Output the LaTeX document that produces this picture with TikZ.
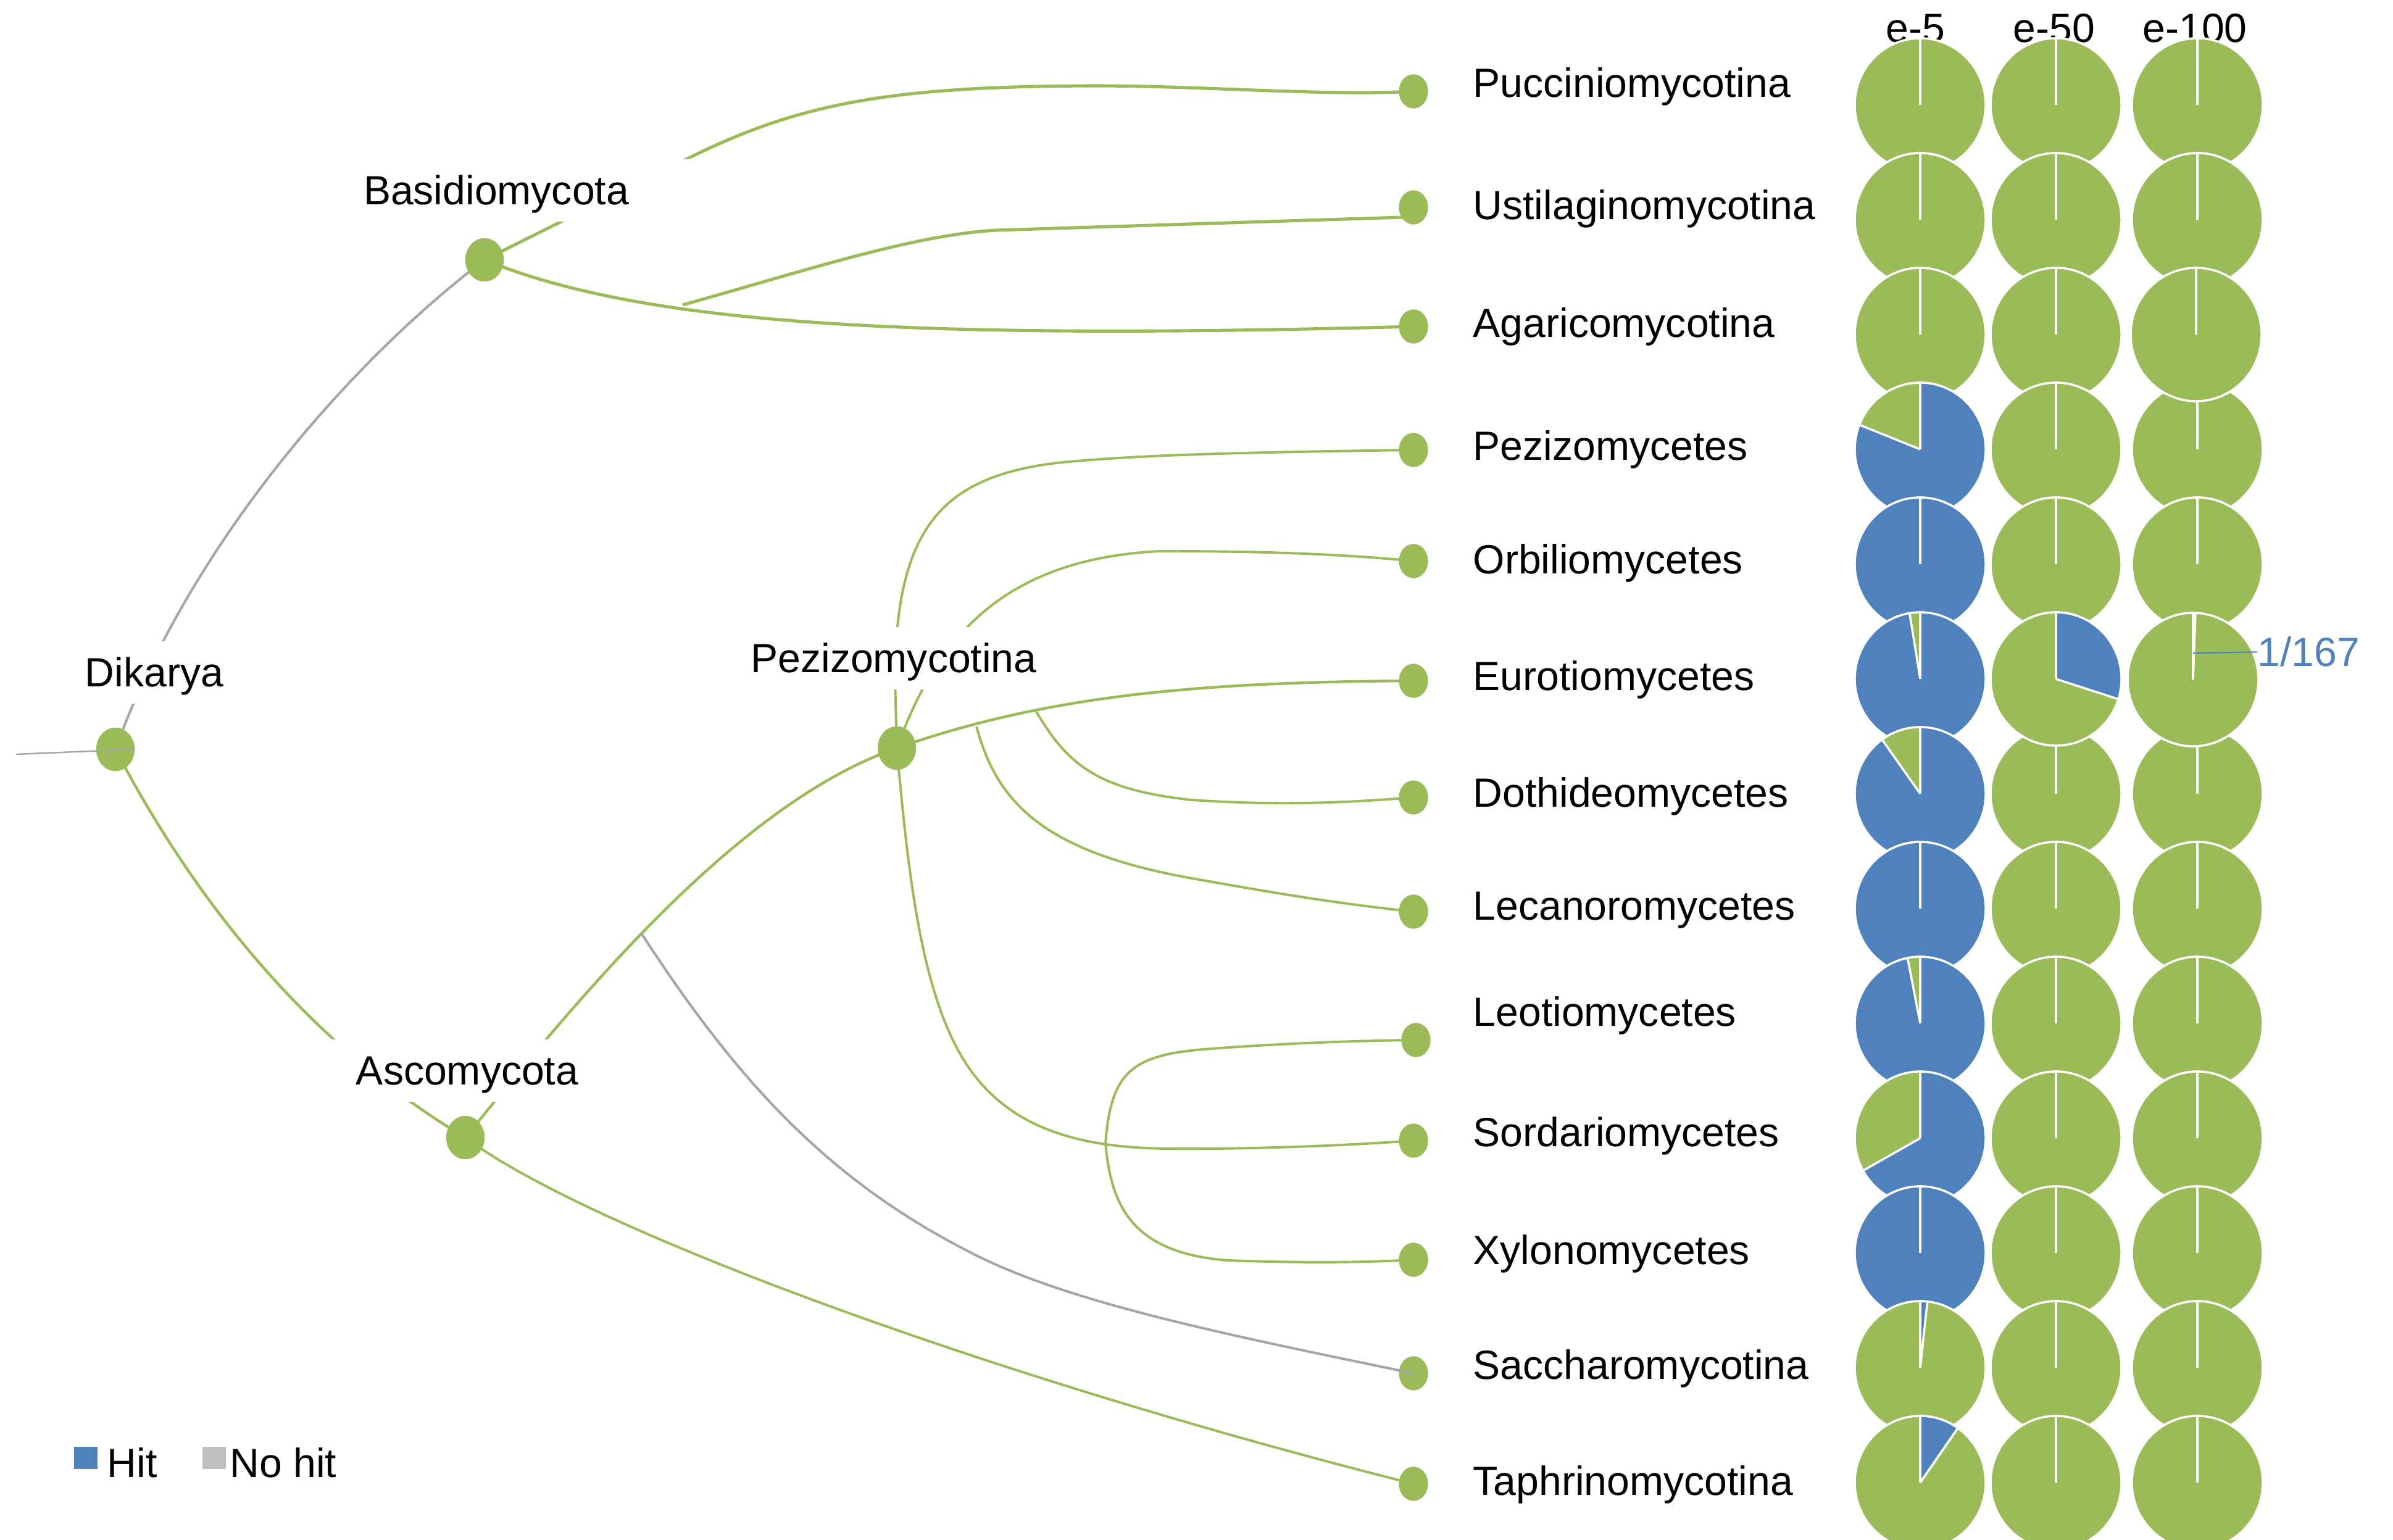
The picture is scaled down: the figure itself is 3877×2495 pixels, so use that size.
\documentclass[tikz,border=0pt]{standalone}
\usepackage{fontspec}
\setmainfont{Liberation Sans}
\usetikzlibrary{shapes.geometric}
\definecolor{pgreen}{HTML}{9BBB59}
\definecolor{pblue}{HTML}{4F81BD}
\definecolor{lgray}{HTML}{BFBFBF}
\definecolor{tgray}{HTML}{A6A6A6}
\newcommand\lbfont{\fontsize{18.8pt}{22pt}\selectfont}
\newcommand\drawpie[3]{%
  \begin{scope}[shift={(#1,#2)},x=1cm,y=1cm]
    \fill[pgreen] (0,0) ellipse[x radius=1.06, y radius=1.08];
    \ifdim #3pt>0pt
      \fill[pblue] (0,0) -- (0,1.08) arc[start angle=90, delta angle={-360*#3}, x radius=1.06, y radius=1.08] -- cycle;
    \fi
    \draw[piewhite] (0,0) ellipse[x radius=1.06, y radius=1.08];
    \draw[piewhite] (0,0) -- (0,1.08);
    \draw[piewhite] (0,0) -- ({90-360*#3}:1.06 and 1.08);
  \end{scope}}
\begin{document}
\begin{tikzpicture}[x=0.01cm,y=-0.01cm,
  piewhite/.style={white, line width=1pt},
  leaf/.style={ellipse, fill=pgreen, minimum width=0.47cm, minimum height=0.55cm, inner sep=0pt},
  inode/.style={ellipse, fill=pgreen, minimum width=0.62cm, minimum height=0.70cm, inner sep=0pt},
  ilabel/.style={fill=white, inner xsep=1.0cm, inner ysep=0pt, text height=0.74cm, text depth=0.27cm, anchor=base, font=\lbfont},
  tlabel/.style={anchor=base west, inner sep=0pt, font=\lbfont},
  hlabel/.style={anchor=base, inner sep=0pt, font=\lbfont},
  gthick/.style={pgreen, line width=1.45pt},
  gmed/.style={pgreen, line width=1.25pt},
  gthin/.style={pgreen, line width=1.12pt},
  grayline/.style={tgray, line width=1.15pt},
  keybox/.style={minimum width=0.38cm, minimum height=0.35cm, inner sep=0pt}]
\useasboundingbox (0,0) rectangle (3877,2495);

% ---------- nodes ----------
\path
  (187,1214)  node[inode] (dik) {}
  (785,421)   node[inode] (bas) {}
  (754,1843)  node[inode] (asc) {}
  (1453,1212) node[inode] (pez) {};
\path
  (2290,148)  node[leaf] (puc) {}
  (2290,336)  node[leaf] (ust) {}
  (2290,529)  node[leaf] (aga) {}
  (2290,729)  node[leaf] (pzm) {}
  (2290,909)  node[leaf] (orb) {}
  (2290,1103) node[leaf] (eur) {}
  (2290,1292) node[leaf] (dot) {}
  (2290,1477) node[leaf] (lec) {}
  (2294,1685) node[leaf] (leo) {}
  (2290,1848) node[leaf] (sor) {}
  (2290,2041) node[leaf] (xyl) {}
  (2290,2225) node[leaf] (sac) {}
  (2290,2404) node[leaf] (tap) {};

\coordinate (root) at (26,1222);
\coordinate (ub) at (1106,494);
\coordinate (sb) at (1039,1512);
\coordinate (db) at (1679,1153);
\coordinate (lb) at (1582,1177);
\coordinate (lx) at (1791,1852);

% ---------- branches ----------
\draw[grayline] (dik.center) .. controls (300,900) and (550,600) .. (bas.center);
\draw[gmed] (dik.center) .. controls (300,1430) and (480,1680) .. (asc.center);
\draw[gthick] (bas.center) -- (1118,255) .. controls (1300,165) and (1450,140) .. (1773,139)
   .. controls (1950,139) and (2150,156) .. (puc.center);
\draw[gthick] (bas.center) .. controls (1050,530) and (1500,550) .. (aga.center);
\draw[gthick] (ub) .. controls (1300,440) and (1480,380) .. (1615,373) -- (2272,352) -- (ust.center);
\draw[gmed] (asc.center) .. controls (950,1600) and (1200,1300) .. (pez.center)
   .. controls (1700,1125) and (1950,1105) .. (eur.center);
\draw[gthin] (asc.center) .. controls (950,1990) and (1600,2230) .. (tap.center);
\draw[gthin] (pez.center) -- (1450,1100) .. controls (1451,850) and (1530,770) .. (1721,749)
   .. controls (1850,737) and (2000,733) .. (pzm.center);
\draw[gthin] (pez.center) .. controls (1515,1040) and (1620,905) .. (1880,893)
   .. controls (2000,893) and (2150,895) .. (orb.center);
\draw[gthin] (db) .. controls (1730,1240) and (1780,1280) .. (1931,1296)
   .. controls (2050,1304) and (2150,1303) .. (dot.center);
\draw[gthin] (lb) .. controls (1615,1300) and (1690,1380) .. (1931,1423)
   .. controls (2050,1444) and (2150,1462) .. (lec.center);
\draw[gthin] (pez.center) .. controls (1470,1400) and (1490,1600) .. (1560,1715)
   .. controls (1630,1830) and (1750,1860) .. (1896,1861)
   .. controls (2000,1862) and (2150,1858) .. (sor.center);
\draw[gthin] (lx) .. controls (1800,1740) and (1830,1710) .. (1950,1700)
   .. controls (2080,1690) and (2200,1686) .. (leo.center);
\draw[gthin] (lx) .. controls (1800,1950) and (1830,2030) .. (1990,2042)
   .. controls (2100,2046) and (2200,2046) .. (xyl.center);

% ---------- node discs on top of branches ----------
\foreach \n in {dik,bas,asc,pez}{ \fill[pgreen] (\n.center) ellipse[x radius=0.31cm, y radius=0.35cm]; }
\foreach \n in {puc,ust,aga,pzm,orb,eur,dot,lec,leo,sor,xyl,sac,tap}{ \fill[pgreen] (\n.center) ellipse[x radius=0.235cm, y radius=0.275cm]; }

% ---------- gray lines drawn over nodes ----------
\draw[tgray, line width=0.7pt] (root) -- (dik.east);
\draw[grayline] (sb) .. controls (1200,1760) and (1350,1920) .. (1590,2038)
   .. controls (1750,2115) and (2000,2165) .. (sac.center);

% ---------- inner labels ----------
\node[ilabel] (dikL) at (250,1113) {Dikarya};
\node[ilabel] (basL) at (804,332) {Basidiomycota};
\node[ilabel] (ascL) at (757,1758) {Ascomycota};
\node[ilabel] (pezL) at (1448,1090) {Pezizomycotina};

% ---------- leaf labels ----------
\node[tlabel] (lPuc) at (2386,158)  {Pucciniomycotina};
\node[tlabel] (lUst) at (2386,356)  {Ustilaginomycotina};
\node[tlabel] (lAga) at (2386,547)  {Agaricomycotina};
\node[tlabel] (lPzm) at (2386,746)  {Pezizomycetes};
\node[tlabel] (lOrb) at (2386,930)  {Orbiliomycetes};
\node[tlabel] (lEur) at (2386,1119) {Eurotiomycetes};
\node[tlabel] (lDot) at (2386,1308) {Dothideomycetes};
\node[tlabel] (lLec) at (2386,1491) {Lecanoromycetes};
\node[tlabel] (lLeo) at (2386,1663) {Leotiomycetes};
\node[tlabel] (lSor) at (2386,1858) {Sordariomycetes};
\node[tlabel] (lXyl) at (2386,2048) {Xylonomycetes};
\node[tlabel] (lSac) at (2386,2234) {Saccharomycotina};
\node[tlabel] (lTap) at (2386,2422) {Taphrinomycotina};

% ---------- column headers ----------
\node[hlabel] (h1) at (3103,69) {e-5};
\node[hlabel] (h2) at (3328,69) {e-50};
\node[hlabel] (h3) at (3556,69) {e-100};

% ---------- pies ----------
\foreach \r/\f in {0/0,1/0,2/0,3/0.81,4/1,5/0.974,6/0.901,7/1,8/0.969,9/0.669,10/1,11/0.0175,12/0.0975}{
  \drawpie{3111}{170+186*\r}{\f}}
\foreach \r in {0,1,2,3,4,6,7,8,9,10,11,12}{
  \drawpie{3331}{170+186*\r}{0}}
\foreach \r in {0,1,3,4,6,7,8,9,10,11,12}{
  \drawpie{3560}{170+186*\r}{0}}
\drawpie{3558}{542}{0}
\drawpie{3331}{1100}{0.299}
\drawpie{3553}{1101}{0.006}

% ---------- 1/167 callout ----------
\coordinate (p167) at (3553,1058);
\node[tlabel, text=pblue] (t167) at (3657,1080) {1/167};
\draw[pblue, line width=0.6pt] (p167) -- (t167.west);

% ---------- legend ----------
\node[keybox, fill=pblue] (kHit) at (139,2362) {};
\node[tlabel] (tHit) at (173,2393) {Hit};
\node[keybox, fill=lgray] (kNo) at (347,2362) {};
\node[tlabel] (tNo) at (372,2393) {No hit};
\end{tikzpicture}
\end{document}
